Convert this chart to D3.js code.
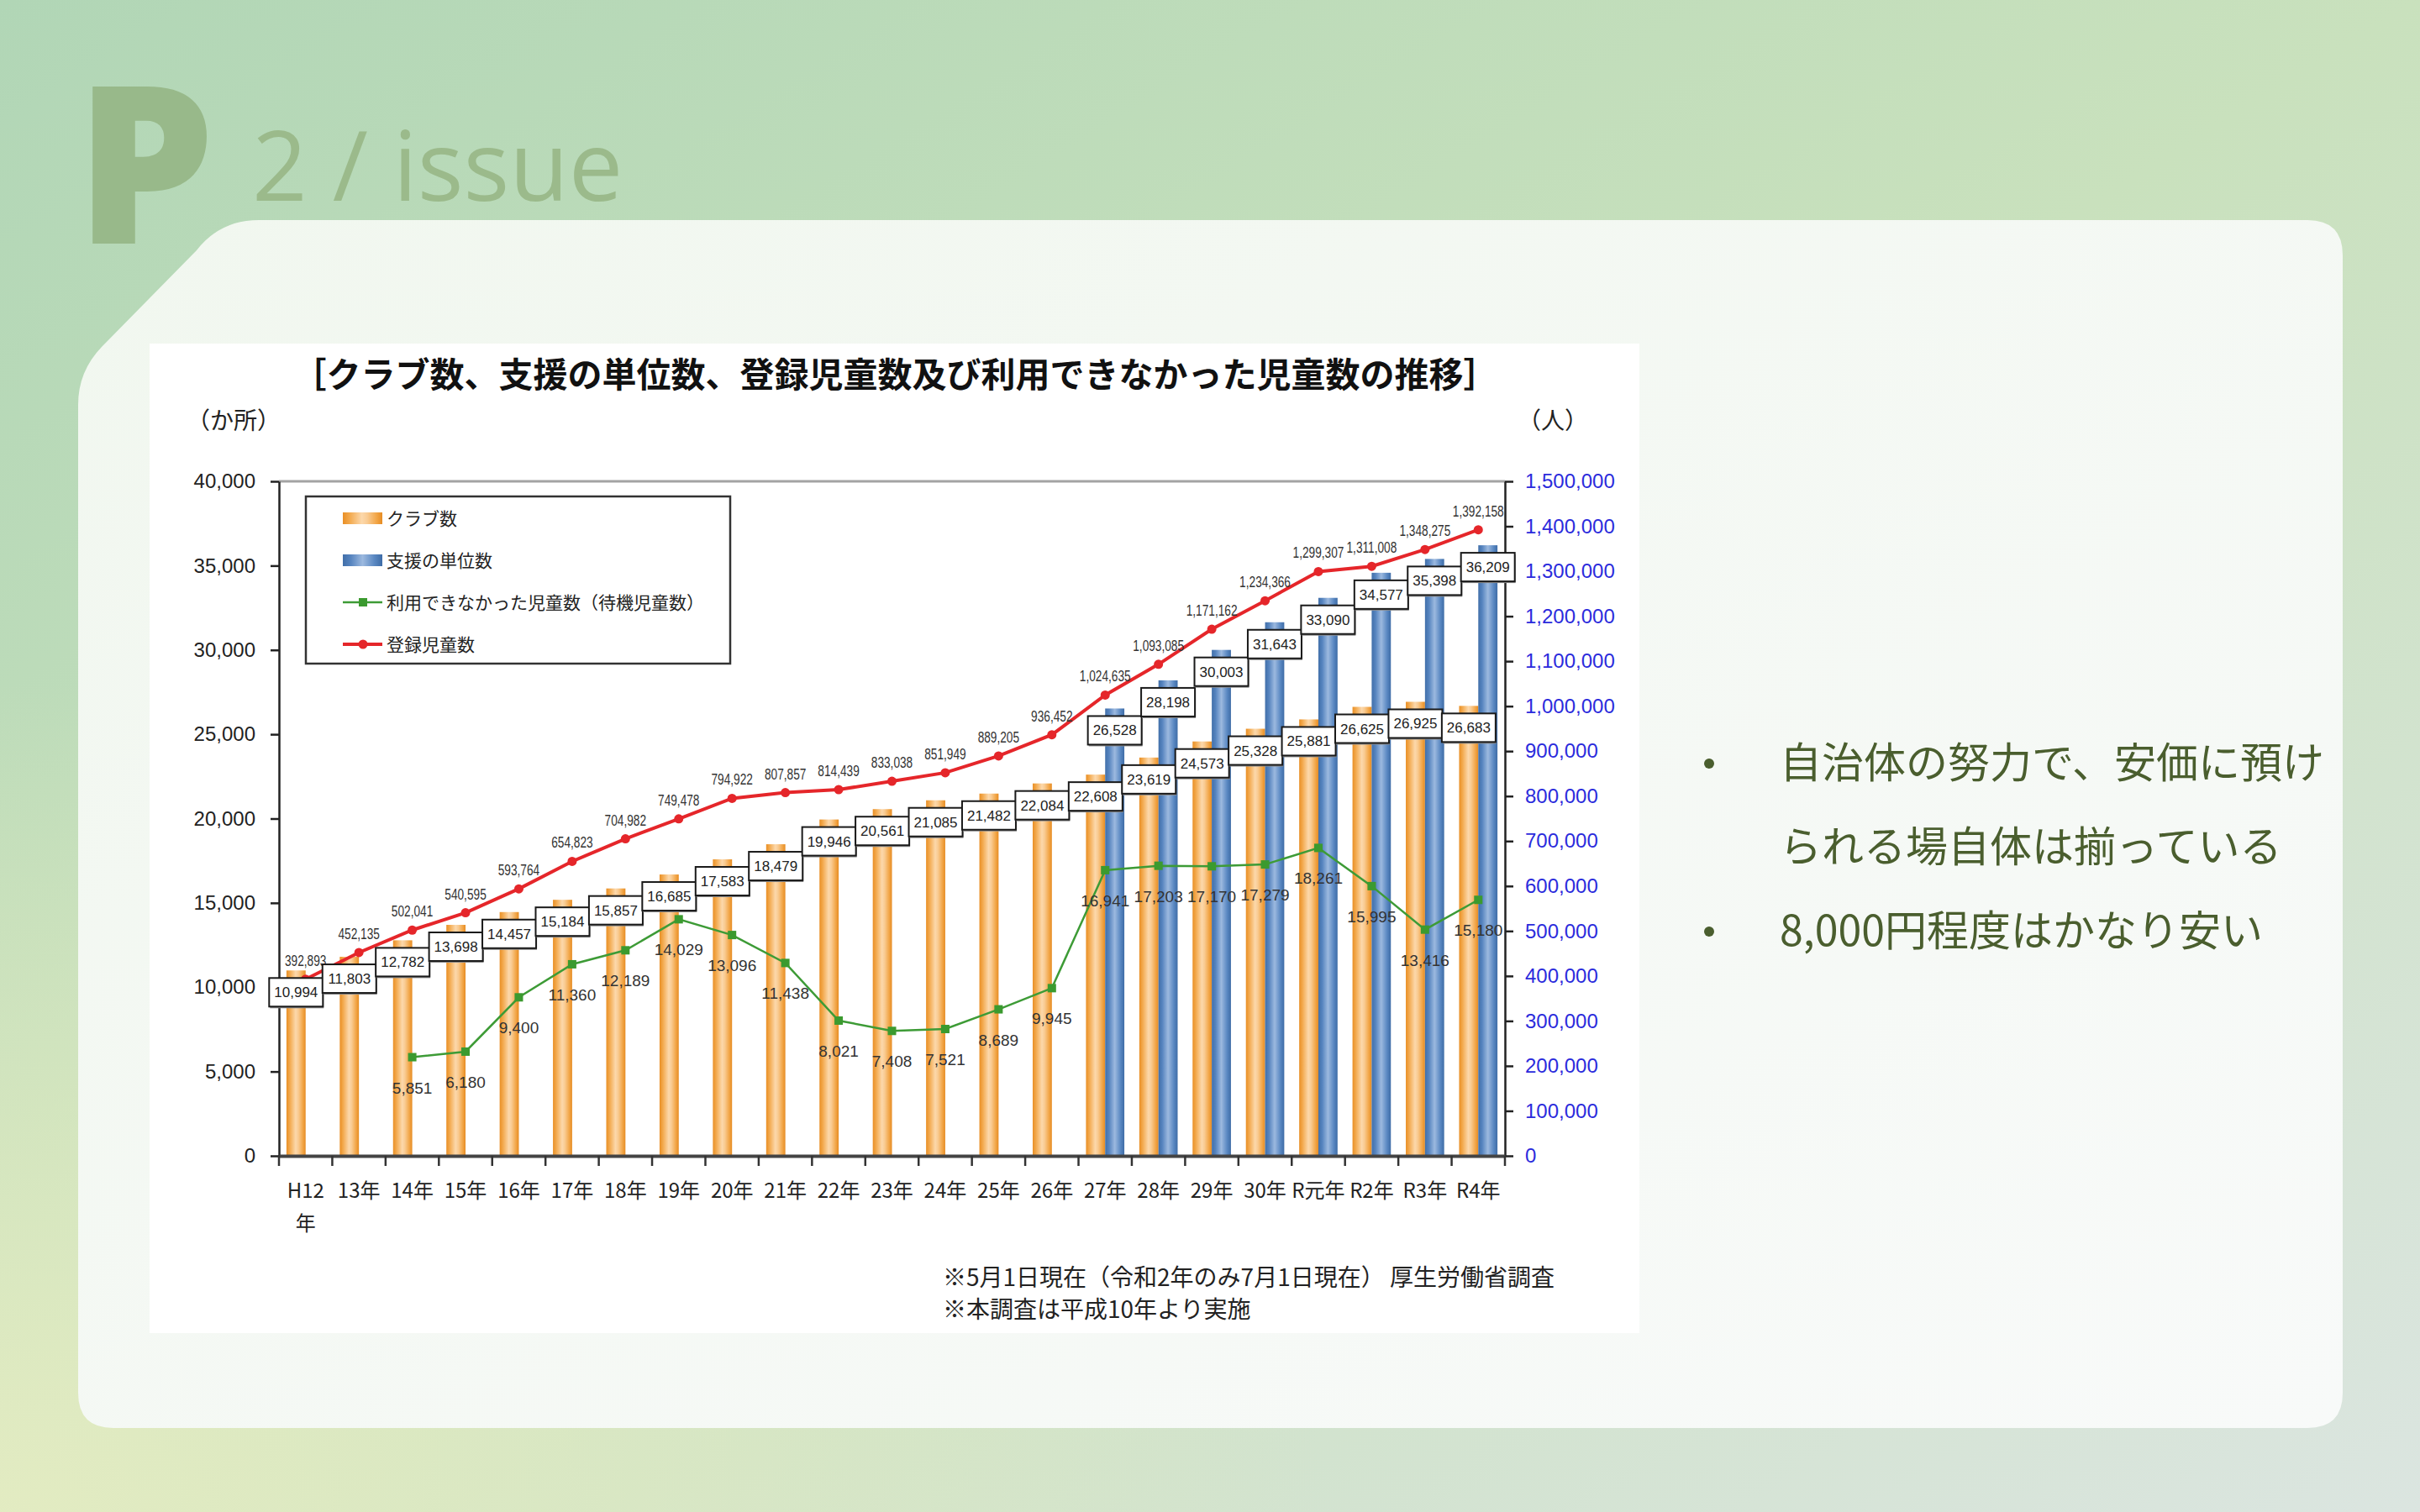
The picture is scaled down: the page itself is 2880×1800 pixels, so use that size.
<!DOCTYPE html>
<html>
<head>
<meta charset="utf-8">
<script src="https://cdn.jsdelivr.net/npm/d3@7"></script>
<style>
  body { margin: 0; background: #c4dfbd; }
  svg { display: block; }
</style>
</head>
<body>
<div id="chart"></div>
<script>
// data
const categories = ["H12年", "13年", "14年", "15年", "16年", "17年", "18年", "19年", "20年", "21年", "22年", "23年",
  "24年", "25年", "26年", "27年", "28年", "29年", "30年", "R元年", "R2年", "R3年", "R4年"];
const clubCounts = [10994, 11803, 12782, 13698, 14457, 15184, 15857, 16685, 17583, 18479, 19946, 20561,
  21085, 21482, 22084, 22608, 23619, 24573, 25328, 25881, 26625, 26925, 26683];
const unitYears = ["27年", "28年", "29年", "30年", "R元年", "R2年", "R3年", "R4年"];
const unitCounts = [26528, 28198, 30003, 31643, 33090, 34577, 35398, 36209];
const waitYears = ["14年", "15年", "16年", "17年", "18年", "19年", "20年", "21年", "22年", "23年", "24年",
  "25年", "26年", "27年", "28年", "29年", "30年", "R元年", "R2年", "R3年", "R4年"];
const waitingChildren = [5851, 6180, 9400, 11360, 12189, 14029, 13096, 11438, 8021, 7408, 7521,
  8689, 9945, 16941, 17203, 17170, 17279, 18261, 15995, 13416, 15180];
const registered = [392893, 452135, 502041, 540595, 593764, 654823, 704982, 749478, 794922, 807857, 814439, 833038,
  851949, 889205, 936452, 1024635, 1093085, 1171162, 1234366, 1299307, 1311008, 1348275, 1392158];
const leftTicks = [0, 5000, 10000, 15000, 20000, 25000, 30000, 35000, 40000];
const rightTicks = [0, 100000, 200000, 300000, 400000, 500000, 600000, 700000, 800000, 900000,
  1000000, 1100000, 1200000, 1300000, 1400000, 1500000];
const legendItems = ["クラブ数", "支援の単位数", "利用できなかった児童数（待機児童数）", "登録児童数"];
const bullets = [["自治体の努力で、安価に預け", "られる場自体は揃っている"], ["8,000円程度はかなり安い"]];

const width = 2880, height = 1800;
const plot = { left: 332, right: 1791, top: 573, bottom: 1376 };
const jp = "'Noto Sans CJK JP', sans-serif";
const num = "'Liberation Sans', Arial, sans-serif";

const svg = d3.select("#chart").append("svg")
  .attr("width", width)
  .attr("height", height);
const defs = svg.append("defs");

function gradient(id, stops, attrs) {
  const g = defs.append(attrs.radial ? "radialGradient" : "linearGradient").attr("id", id);
  Object.entries(attrs).forEach(([k, v]) => { if (k !== "radial") g.attr(k, v); });
  stops.forEach(([o, c, a]) => g.append("stop").attr("offset", o).attr("stop-color", c).attr("stop-opacity", a ?? 1));
}
gradient("bg", [[0, "#b1d6b6"], [0.5, "#c9e1bd"], [1, "#dbe5e0"]], { x1: 0, y1: 0, x2: 1, y2: 1 });
gradient("bgY", [[0, "#e4ecc2", 0.95], [1, "#e4ecc2", 0]], { radial: true, cx: 0, cy: 1, r: 0.55 });
gradient("card", [[0, "#f1f7ef"], [1, "#f8faf9"]], { x1: 0, y1: 0, x2: 1, y2: 1 });
gradient("gOrange", [[0, "#e98f25"], [0.18, "#f3aa4f"], [0.48, "#fcd8ab"], [0.62, "#f9cb92"], [0.85, "#f2a648"], [1, "#e68c23"]],
  { x1: 0, y1: 0, x2: 1, y2: 0 });
gradient("gBlue", [[0, "#416fa9"], [0.2, "#5684bf"], [0.5, "#9cb9df"], [0.8, "#5a88c2"], [1, "#3e6ca6"]],
  { x1: 0, y1: 0, x2: 1, y2: 0 });

// slide background
svg.append("rect").attr("width", width).attr("height", height).attr("fill", "url(#bg)");
svg.append("rect").attr("width", width).attr("height", height).attr("fill", "url(#bgY)");

svg.append("text").attr("x", 90).attr("y", 290)
  .attr("font-family", "'Open Sans', sans-serif").attr("font-weight", 800)
  .attr("font-size", 262).attr("fill", "#98b98a").text("P");
svg.append("text").attr("x", 300).attr("y", 239)
  .attr("font-family", "'Open Sans', sans-serif").attr("font-size", 115)
  .attr("fill", "#9bba8b").text("2 / issue");

// card with the cut corner
svg.append("path")
  .attr("d", "M93,1658 L93,482 Q93,442 121,413 L234,298 Q262,262 308,262 L2746,262 Q2788,262 2788,304 " +
    "L2788,1658 Q2788,1700 2746,1700 L135,1700 Q93,1700 93,1658 Z")
  .attr("fill", "url(#card)");

// chart panel
svg.append("rect").attr("x", 178).attr("y", 409).attr("width", 1773).attr("height", 1178).attr("fill", "#fff");

svg.append("text").attr("x", 1065).attr("y", 461).attr("text-anchor", "middle")
  .attr("font-family", jp).attr("font-weight", 700).attr("font-size", 41).attr("fill", "#111")
  .text("［クラブ数、支援の単位数、登録児童数及び利用できなかった児童数の推移］");
svg.append("text").attr("x", 222).attr("y", 511).attr("font-family", jp).attr("font-size", 28).attr("fill", "#222")
  .text("（か所）");
svg.append("text").attr("x", 1806).attr("y", 511).attr("font-family", jp).attr("font-size", 28).attr("fill", "#222")
  .text("（人）");

// scales
const x = d3.scaleBand().domain(categories).range([plot.left, plot.right]);
const inner = d3.scaleBand().domain(["club", "unit"]).range([0, x.bandwidth()]).paddingOuter(0.39);
const yL = d3.scaleLinear().domain([0, 40000]).range([plot.bottom, plot.top]);
const yR = d3.scaleLinear().domain([0, 1500000]).range([plot.bottom, plot.top]);
const cx = c => x(c) + x.bandwidth() / 2;

const clubData = categories.map((c, i) => ({ cat: c, v: clubCounts[i], key: "club" }));
const unitData = unitYears.map((c, i) => ({ cat: c, v: unitCounts[i], key: "unit" }));
const waitData = waitYears.map((c, i) => ({ cat: c, v: waitingChildren[i] }));
const regData = categories.map((c, i) => ({ cat: c, v: registered[i] }));

// plot top border
svg.append("line").attr("x1", plot.left).attr("x2", plot.right).attr("y1", plot.top).attr("y2", plot.top)
  .attr("stroke", "#a3a3a3").attr("stroke-width", 3);

// bars
svg.append("g").selectAll("rect")
  .data(clubData.concat(unitData))
  .join("rect")
  .attr("x", d => x(d.cat) + inner(d.key))
  .attr("y", d => yL(d.v))
  .attr("width", inner.bandwidth())
  .attr("height", d => yL(0) - yL(d.v))
  .attr("fill", d => d.key === "club" ? "url(#gOrange)" : "url(#gBlue)");

// axes
const axL = svg.append("g").attr("transform", `translate(${plot.left},0)`)
  .call(d3.axisLeft(yL).tickValues(leftTicks).tickFormat(d3.format(",")).tickSize(10).tickSizeOuter(0).tickPadding(18));
axL.selectAll("text").attr("font-size", 24).attr("font-family", num).attr("fill", "#222");
axL.selectAll("line, path").attr("stroke", "#222").attr("stroke-width", 2.5);

const axR = svg.append("g").attr("transform", `translate(${plot.right},0)`)
  .call(d3.axisRight(yR).tickValues(rightTicks).tickFormat(d3.format(",")).tickSize(10).tickSizeOuter(0).tickPadding(14));
axR.selectAll("text").attr("font-size", 24).attr("font-family", num).attr("fill", "#2b2bdc");
axR.selectAll("line, path").attr("stroke", "#222").attr("stroke-width", 2.5);

const axB = svg.append("g").attr("transform", `translate(0,${plot.bottom})`)
  .call(d3.axisBottom(x).tickSize(0).tickSizeOuter(0).tickPadding(33));
axB.select(".domain").attr("stroke", "#444").attr("stroke-width", 4);
axB.selectAll("text").attr("font-size", 24).attr("font-family", jp).attr("fill", "#222")
  .each(function (d) {
    if (d === "H12年") {
      const t = d3.select(this).text(null);
      t.append("tspan").attr("x", 0).text("H12");
      t.append("tspan").attr("x", 0).attr("dy", 39).text("年");
    }
  });
svg.append("g").selectAll("line")
  .data(categories.concat(["end"]))
  .join("line")
  .attr("x1", d => d === "end" ? plot.right : x(d))
  .attr("x2", d => d === "end" ? plot.right : x(d))
  .attr("y1", plot.bottom).attr("y2", plot.bottom + 12)
  .attr("stroke", "#333").attr("stroke-width", 2.5);

// lines
const line = d3.line();
svg.append("path")
  .attr("d", line(waitData.map(d => [cx(d.cat), yL(d.v)])))
  .attr("fill", "none").attr("stroke", "#3d9b36").attr("stroke-width", 2.5);
svg.append("g").selectAll("rect")
  .data(waitData)
  .join("rect")
  .attr("x", d => cx(d.cat) - 5).attr("y", d => yL(d.v) - 5)
  .attr("width", 10).attr("height", 10).attr("fill", "#3b9a2f");

svg.append("path")
  .attr("d", line(regData.map(d => [cx(d.cat), yR(d.v)])))
  .attr("fill", "none").attr("stroke", "#e5262a").attr("stroke-width", 4);
svg.append("g").selectAll("circle")
  .data(regData)
  .join("circle")
  .attr("cx", d => cx(d.cat)).attr("cy", d => yR(d.v)).attr("r", 5.5)
  .attr("fill", "#e5262a");

// point labels (condensed like the original)
svg.append("g").selectAll("text")
  .data(regData)
  .join("text")
  .attr("transform", d => `translate(${cx(d.cat)},${yR(d.v) - 16}) scale(0.72,1)`)
  .attr("text-anchor", "middle").attr("font-family", num).attr("font-size", 19).attr("fill", "#333")
  .text(d => d3.format(",")(d.v));
svg.append("g").selectAll("text")
  .data(waitData)
  .join("text")
  .attr("x", d => cx(d.cat)).attr("y", d => yL(d.v) + 43)
  .attr("text-anchor", "middle").attr("font-family", num).attr("font-size", 19).attr("fill", "#333")
  .text(d => d3.format(",")(d.v));

// boxed bar labels
const boxes = svg.append("g").selectAll("g")
  .data(clubData.concat(unitData))
  .join("g")
  .attr("transform", d => `translate(${x(d.cat) + inner(d.key) + inner.bandwidth() / 2},${yL(d.v) + 9})`);
boxes.append("rect").attr("x", -31).attr("y", 2).attr("width", 64).attr("height", 34).attr("fill", "#8a8a8a");
boxes.append("rect").attr("x", -32).attr("y", 0).attr("width", 64).attr("height", 34)
  .attr("fill", "#fff").attr("stroke", "#1a1a1a").attr("stroke-width", 2);
boxes.append("text").attr("y", 23).attr("text-anchor", "middle")
  .attr("font-family", num).attr("font-size", 17).attr("fill", "#222")
  .text(d => d3.format(",")(d.v));

// legend
const legend = svg.append("g");
legend.append("rect").attr("x", 364).attr("y", 591).attr("width", 505).attr("height", 199)
  .attr("fill", "#fff").attr("stroke", "#333").attr("stroke-width", 2.5);
const li = legend.selectAll("g").data(legendItems).join("g")
  .attr("transform", (d, i) => `translate(408,${617 + i * 50})`);
li.filter((d, i) => i < 2).append("rect")
  .attr("x", 0).attr("y", -7).attr("width", 47).attr("height", 14)
  .attr("fill", (d, i) => i === 0 ? "url(#gOrange)" : "url(#gBlue)");
li.filter((d, i) => i >= 2).append("line")
  .attr("x1", 0).attr("x2", 47).attr("y1", 0).attr("y2", 0)
  .attr("stroke", (d, i) => i === 0 ? "#3d9b36" : "#e5262a").attr("stroke-width", (d, i) => i === 0 ? 2.5 : 4);
li.filter((d, i) => i === 2).append("rect").attr("x", 19).attr("y", -5).attr("width", 10).attr("height", 10).attr("fill", "#3b9a2f");
li.filter((d, i) => i === 3).append("circle").attr("cx", 24).attr("r", 5.5).attr("fill", "#e5262a");
li.append("text").attr("x", 52).attr("y", 8)
  .attr("font-family", jp).attr("font-size", 21).attr("fill", "#222")
  .text(d => d);

// footnotes
svg.append("text").attr("x", 1122).attr("y", 1531).attr("font-family", jp).attr("font-size", 28).attr("fill", "#222")
  .text("※5月1日現在（令和2年のみ7月1日現在） 厚生労働省調査");
svg.append("text").attr("x", 1122).attr("y", 1569).attr("font-family", jp).attr("font-size", 28).attr("fill", "#222")
  .text("※本調査は平成10年より実施");

// bullet points
let lineY = 909;
bullets.forEach(b => {
  svg.append("circle").attr("cx", 2034).attr("cy", lineY).attr("r", 6).attr("fill", "#4a5e2e");
  b.forEach(t => {
    svg.append("text").attr("x", 2118).attr("y", lineY + 17)
      .attr("font-family", jp).attr("font-size", 50).attr("fill", "#4a5e2e").text(t);
    lineY += 100;
  });
});
</script>
</body>
</html>
